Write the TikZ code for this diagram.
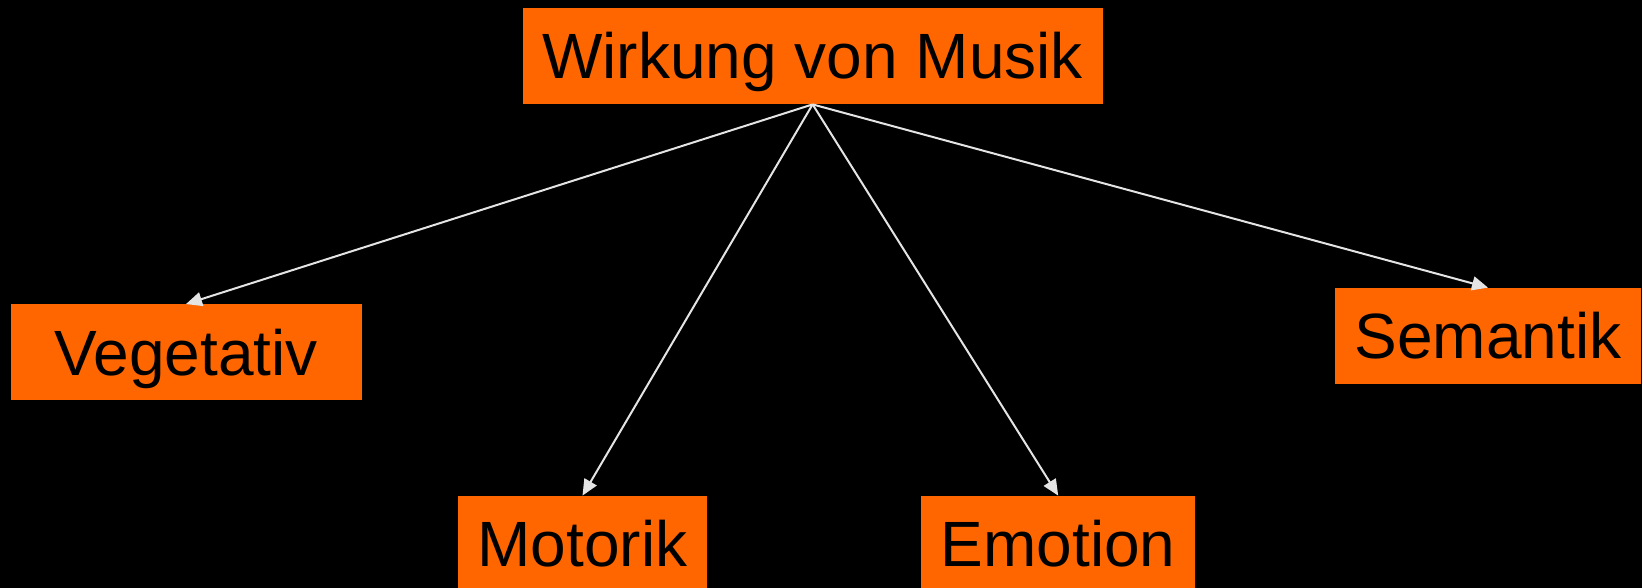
\documentclass[tikz,border=0pt]{standalone}
\usepackage{fontspec}
\setmainfont{Liberation Sans}
\usetikzlibrary{arrows.meta}
\definecolor{boxorange}{HTML}{FF6600}
\definecolor{linegray}{HTML}{E4E4E4}
\begin{document}
\begin{tikzpicture}[x=0.5pt,y=-0.5pt,
  box/.style={fill=boxorange, draw=none, inner sep=0pt, text=black,
    font=\fontsize{32}{36}\selectfont, text height=22.9pt, text depth=0pt,
    minimum height=48pt},
  conn/.style={draw=linegray, line width=1pt, -{Triangle[length=8pt,width=7pt]}}]
\fill[black] (0,0) rectangle (1642,588);
\useasboundingbox (0,0) rectangle (1642,588);
\node[box, minimum width=290pt] (top) at (812.6,56) {Wirkung von Musik};
\node[box, minimum width=175.5pt, minimum height=47.75pt] (veg) at (186,352.2) {Vegetativ};
\node[box, minimum width=124.5pt] (mot) at (582.5,544) {Motorik};
\node[box, minimum width=137pt] (emo) at (1058.2,544) {Emotion};
\node[box, minimum width=153pt] (sem) at (1488,336) {Semantik};
\draw[conn] (top.south) -- (veg.north);
\draw[conn] (top.south) -- (mot.north);
\draw[conn] (top.south) -- (emo.north);
\draw[conn] (top.south) -- (sem.north);
\end{tikzpicture}
\end{document}
